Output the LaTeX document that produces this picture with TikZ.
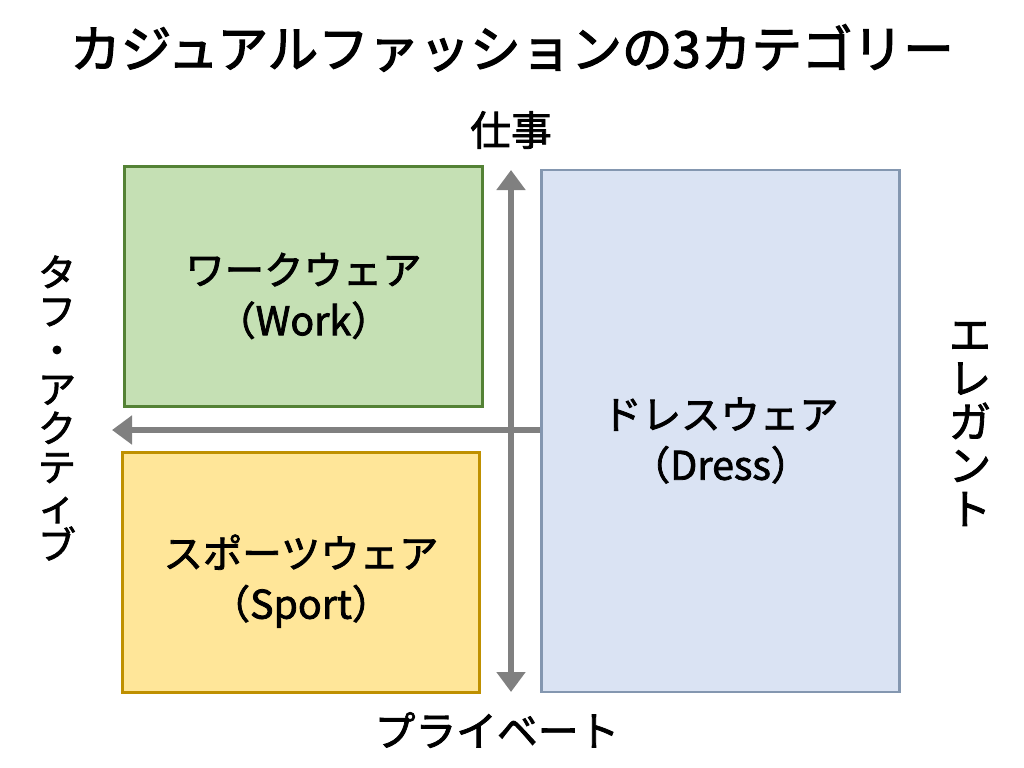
\documentclass[tikz,border=0pt]{standalone}
\usepackage{fontspec}
\setmainfont{Noto Sans CJK JP}[RawFeature={embolden=2}]
\newfontfamily\titlefont{Noto Sans CJK JP}[RawFeature={embolden=2.4}]
\usepackage{tikz}
\usetikzlibrary{arrows.meta,positioning,calc}

\definecolor{workfill}{HTML}{C5E0B4}
\definecolor{workline}{HTML}{548235}
\definecolor{sportfill}{HTML}{FFE699}
\definecolor{sportline}{HTML}{BF9000}
\definecolor{dressfill}{HTML}{DAE3F3}
\definecolor{dressline}{HTML}{8497B0}
\definecolor{axisgray}{HTML}{808080}

\begin{document}
\begin{tikzpicture}[
    x=0.025cm, y=-0.025cm,
    category/.style={draw, rectangle, line width=2pt, minimum width=8.93cm, minimum height=5.98cm, align=center, font=\fontsize{28}{36}\selectfont, text height=72pt},
    axislabel/.style={align=center, font=\fontsize{29}{34}\selectfont},
    axis/.style={draw=axisgray, line width=4.3pt, -{Triangle[length=0.5cm, width=0.7cm]}}
]
    \useasboundingbox (0,0) rectangle (1024,768);

    \node[font=\fontsize{36}{40}\selectfont\titlefont] (title) at (512,48) {カジュアルファッションの3カテゴリー};

    \node[category, fill=workfill, draw=workline] (work) at (303.5,286.5) {ワークウェア\\（Work）};
    \node[category, fill=sportfill, draw=sportline] (sport) at (301,572.5) {スポーツウェア\\（Sport）};
    \node[category, fill=dressfill, draw=dressline, minimum height=13.05cm] (dress) at (720.5,431) {ドレスウェア\\（Dress）};

    \coordinate (vtop) at (511,170);
    \coordinate (vbottom) at (511,692);
    \coordinate (hleft) at (112,430);
    \coordinate (hright) at (dress.west |- hleft);

    % axes
    \draw[axis] (hright) -- (hleft);
    \draw[axis, {Triangle[length=0.5cm, width=0.7cm]}-{Triangle[length=0.5cm, width=0.7cm]}] (vtop) -- (vbottom);

    \node[axislabel] (work-label) at (511,130) {仕事};
    \node[axislabel] (private-label) at (497,730) {プライベート};
    \node[axislabel, font=\fontsize{27}{27.7}\selectfont] (tough-label) at (57,408) {タ\\フ\\・\\ア\\ク\\テ\\ィ\\ブ};
    \node[axislabel, font=\fontsize{30}{31}\selectfont] (elegant-label) at (970,424) {エ\\レ\\ガ\\ン\\ト};
\end{tikzpicture}
\end{document}
